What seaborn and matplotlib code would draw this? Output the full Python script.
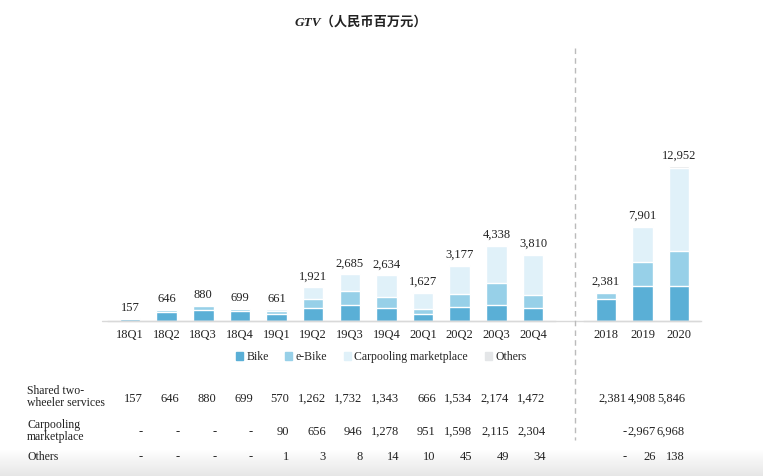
import matplotlib
matplotlib.use("Agg")
import matplotlib.pyplot as plt
import seaborn as sns
import numpy as np
from matplotlib.patches import Rectangle
from matplotlib.lines import Line2D

sns.set_theme(style="white")
plt.rcParams['font.family'] = ['Liberation Serif', 'Noto Sans CJK SC']

quarters = ["18Q1", "18Q2", "18Q3", "18Q4", "19Q1", "19Q2", "19Q3", "19Q4",
            "20Q1", "20Q2", "20Q3", "20Q4"]
q_bike = [140, 530, 630, 570, 400, 740, 910, 740, 400, 800, 910, 740]
q_shared = [157, 646, 880, 699, 570, 1262, 1732, 1343, 666, 1534, 2174, 1472]
q_carpool = [0, 0, 0, 0, 90, 656, 946, 1278, 951, 1598, 2115, 2304]
q_others = [0, 0, 0, 0, 1, 3, 8, 14, 10, 45, 49, 34]
q_total = [157, 646, 880, 699, 661, 1921, 2685, 2634, 1627, 3177, 4338, 3810]

years = ["2018", "2019", "2020"]
y_bike = [1840, 2900, 2900]
y_shared = [2381, 4908, 5846]
y_carpool = [0, 2967, 6968]
y_others = [0, 26, 138]
y_total = [2381, 7901, 12952]

series = ["Bike", "e-Bike", "Carpooling marketplace", "Others"]
colors = ["#5aafd6", "#97d0e8", "#e0f1f9", "#e4e6e8"]

q_table_carpool = ["-", "-", "-", "-", "90", "656", "946", "1,278", "951", "1,598", "2,115", "2,304"]
q_table_others = ["-", "-", "-", "-", "1", "3", "8", "14", "10", "45", "49", "34"]
y_table_carpool = ["-", "2,967", "6,968"]
y_table_others = ["-", "26", "138"]
row_labels = ["Shared two-\nwheeler services", "Carpooling\nmarketplace", "Others"]

W, H = 763, 476
fig = plt.figure(figsize=(W / 100, H / 100), dpi=100)


def ax_rect(x0, x1, ytop, ybot):
    return [x0 / W, 1 - ybot / H, (x1 - x0) / W, (ybot - ytop) / H]


sp = 36.6
axq = fig.add_axes(ax_rect(130 - 0.6 * sp, 533 + 0.6 * sp, 60, 321))
axy = fig.add_axes(ax_rect(606 - 0.6 * sp, 679 + 0.6 * sp, 60, 321))


def draw_stack(ax, cats, bike, shared, carpool, others, total, ymax):
    ebike = [s - b for s, b in zip(shared, bike)]
    parts = [bike, ebike, carpool, others]
    cum = np.cumsum(np.array(parts, dtype=float), axis=0)
    for k in range(3, -1, -1):
        sns.barplot(x=list(cats), y=cum[k], ax=ax, color=colors[k], width=0.56,
                    saturation=1)
    ax.set_ylim(0, ymax)
    for i, t in enumerate(total):
        ax.text(i, t + ymax * 0.017, f"{t:,}", ha="center", va="bottom",
                fontsize=9, color="#222222")
    ax.set_xlabel("")
    ax.set_ylabel("")
    ax.set_yticks([])
    for sp_ in ["top", "right", "left"]:
        ax.spines[sp_].set_visible(False)
    ax.spines["bottom"].set_color("#d9d9d9")
    ax.spines["bottom"].set_linewidth(1.0)
    ax.tick_params(axis="x", labelsize=9, colors="#222222", length=0, pad=6)
    ax.set_facecolor("none")


draw_stack(axq, quarters, q_bike, q_shared, q_carpool, q_others, q_total, 261 * 57)
draw_stack(axy, years, y_bike, y_shared, y_carpool, y_others, y_total, 261 * 83.6)
axq.set_xlim(-0.6, len(quarters) - 0.4)
axy.set_xlim(-0.6, len(years) - 0.4)

fig.add_artist(Line2D([102 / W, 700 / W], [1 - 321 / H, 1 - 321 / H],
                      color="#d9d9d9", lw=1.0))
fig.add_artist(Line2D([575 / W, 575 / W], [1 - 48 / H, 1 - 440 / H],
                      color="#bbbbbb", lw=1.0, ls=(0, (4, 3))))

fig.text(361 / W, 1 - 22 / H, "GTV（人民币百万元）", ha="center", va="center",
         fontsize=9.5, fontweight="bold", style="italic", color="#222222",
         family=["Liberation Serif", "Noto Sans CJK SC"])

handles = [Rectangle((0, 0), 1, 1, color=c) for c in colors]
fig.legend(handles, series, loc="center", bbox_to_anchor=(381 / W, 1 - 357 / H),
           ncol=4, frameon=False, fontsize=8.5, handlelength=0.6, handleheight=0.6,
           handletextpad=0.3, columnspacing=1.4)

label_y = [397, 431, 457]
row_y = [399, 432, 457]
for lab, yy in zip(row_labels, label_y):
    fig.text(27 / W, 1 - yy / H, lab, ha="left", va="center", fontsize=8.5,
             color="#222222", linespacing=1.05)

q_rows = [[f"{v:,}" for v in q_shared], q_table_carpool, q_table_others]
for r, yy in enumerate(row_y):
    for i, s in enumerate(q_rows[r]):
        x = 130 + i * sp + 13
        fig.text(x / W, 1 - yy / H, s, ha="right", va="center", fontsize=9,
                 color="#222222")

y_rows = [[f"{v:,}" for v in y_shared], y_table_carpool, y_table_others]
y_cols = [627, 656, 685]
for r, yy in enumerate(row_y):
    for i, s in enumerate(y_rows[r]):
        fig.text(y_cols[i] / W, 1 - yy / H, s, ha="right", va="center",
                 fontsize=9, color="#222222")

grad = np.linspace(0, 1, 50).reshape(-1, 1)
bg = fig.add_axes([0, 0, 1, 26 / H], zorder=-5)
bg.imshow(grad, aspect="auto", cmap=matplotlib.colors.LinearSegmentedColormap.from_list(
    "g", ["#e6e6e6", "#ffffff"]), extent=[0, 1, 0, 1], origin="lower")
bg.axis("off")

fig.savefig("out.png", dpi=100)
